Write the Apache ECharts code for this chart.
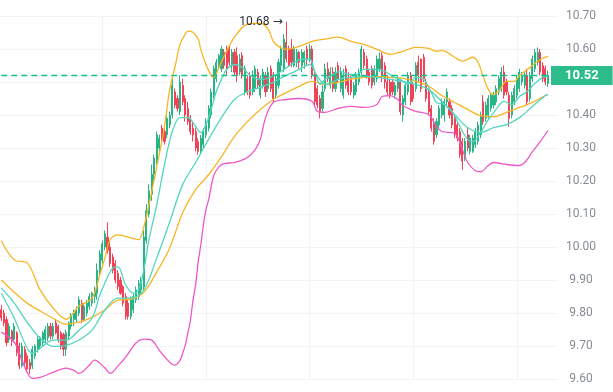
<!DOCTYPE html>
<html><head><meta charset="utf-8">
<script src="https://cdn.jsdelivr.net/npm/echarts@6/dist/echarts.min.js"></script>
<style>html,body{margin:0;padding:0;background:#fff}#c{width:613px;height:392px}</style>
</head><body><div id="c"></div>
<script>
const categories = Array.from({length: 215}, (_, i) => String(i + 1));
// [open, close, low, high]
const candles = [
[9.81,9.785,9.775,9.825],[9.80,9.77,9.76,9.81],[9.78,9.71,9.70,9.79],[9.72,9.76,9.71,9.77],[9.745,9.715,9.70,9.75],
[9.72,9.76,9.71,9.77],[9.74,9.68,9.67,9.745],[9.70,9.64,9.63,9.71],[9.64,9.70,9.635,9.71],[9.69,9.65,9.64,9.70],
[9.67,9.63,9.62,9.68],[9.65,9.63,9.615,9.66],[9.64,9.69,9.63,9.70],[9.67,9.70,9.66,9.705],[9.69,9.72,9.68,9.73],
[9.70,9.725,9.69,9.73],[9.71,9.74,9.70,9.745],[9.72,9.75,9.71,9.76],[9.725,9.76,9.715,9.77],[9.76,9.73,9.72,9.77],
[9.73,9.76,9.72,9.77],[9.77,9.74,9.735,9.78],[9.76,9.72,9.71,9.765],[9.74,9.70,9.69,9.745],[9.735,9.69,9.67,9.74],
[9.69,9.74,9.67,9.75],[9.73,9.77,9.72,9.775],[9.76,9.79,9.75,9.80],[9.78,9.80,9.76,9.81],[9.78,9.81,9.77,9.82],
[9.80,9.84,9.79,9.85],[9.83,9.78,9.77,9.84],[9.78,9.82,9.775,9.83],[9.80,9.83,9.79,9.84],[9.82,9.85,9.81,9.86],
[9.83,9.86,9.82,9.865],[9.85,9.87,9.83,9.88],[9.86,9.93,9.84,9.95],[9.92,9.98,9.91,9.99],[9.96,10.01,9.95,10.02],
[10.00,10.04,9.99,10.05],[10.03,9.99,9.98,10.075],[10.00,9.95,9.94,10.02],[9.97,9.93,9.92,9.98],[9.95,9.90,9.89,9.96],
[9.92,9.88,9.87,9.93],[9.90,9.86,9.855,9.91],[9.88,9.83,9.82,9.885],[9.85,9.79,9.78,9.86],[9.83,9.79,9.78,9.84],
[9.79,9.84,9.78,9.85],[9.81,9.85,9.80,9.86],[9.84,9.87,9.83,9.88],[9.85,9.89,9.84,9.90],[9.87,9.90,9.86,9.91],
[9.88,10.03,9.87,10.05],[10.02,10.11,10.01,10.13],[10.10,10.17,10.09,10.19],[10.16,10.22,10.14,10.25],[10.22,10.27,10.20,10.28],
[10.26,10.34,10.25,10.35],[10.30,10.33,10.29,10.34],[10.36,10.33,10.32,10.37],[10.35,10.32,10.31,10.36],[10.34,10.39,10.33,10.40],
[10.37,10.40,10.36,10.41],[10.40,10.49,10.39,10.52],[10.47,10.43,10.42,10.48],[10.45,10.42,10.41,10.46],[10.41,10.50,10.40,10.52],
[10.49,10.44,10.43,10.51],[10.45,10.40,10.38,10.46],[10.42,10.38,10.37,10.44],[10.39,10.35,10.34,10.40],[10.36,10.34,10.32,10.38],
[10.35,10.30,10.29,10.36],[10.32,10.29,10.28,10.33],[10.29,10.33,10.28,10.34],[10.31,10.35,10.30,10.36],[10.34,10.38,10.33,10.39],
[10.36,10.42,10.35,10.43],[10.40,10.47,10.39,10.48],[10.46,10.54,10.45,10.55],[10.51,10.56,10.50,10.57],[10.55,10.58,10.54,10.585],
[10.54,10.60,10.53,10.61],[10.59,10.55,10.54,10.60],[10.60,10.54,10.52,10.61],[10.60,10.56,10.55,10.61],[10.55,10.59,10.53,10.60],
[10.59,10.53,10.52,10.60],[10.58,10.52,10.50,10.605],[10.53,10.57,10.52,10.585],[10.58,10.52,10.51,10.59],[10.47,10.54,10.46,10.55],
[10.51,10.47,10.46,10.52],[10.52,10.46,10.45,10.53],[10.47,10.52,10.46,10.535],[10.48,10.54,10.47,10.55],[10.53,10.49,10.48,10.54],
[10.46,10.51,10.45,10.52],[10.49,10.53,10.48,10.54],[10.52,10.47,10.455,10.53],[10.48,10.53,10.47,10.545],[10.54,10.48,10.47,10.55],
[10.52,10.45,10.44,10.53],[10.46,10.51,10.45,10.52],[10.49,10.56,10.48,10.57],[10.55,10.60,10.53,10.61],[10.54,10.63,10.53,10.645],
[10.62,10.57,10.56,10.683],[10.60,10.55,10.545,10.61],[10.60,10.56,10.545,10.63],[10.55,10.60,10.545,10.61],[10.56,10.59,10.545,10.60],
[10.59,10.56,10.54,10.595],[10.55,10.59,10.53,10.60],[10.56,10.59,10.54,10.595],[10.60,10.57,10.55,10.61],[10.57,10.60,10.56,10.615],
[10.60,10.52,10.51,10.61],[10.52,10.44,10.43,10.53],[10.48,10.43,10.42,10.49],[10.45,10.41,10.39,10.46],[10.42,10.47,10.41,10.49],
[10.48,10.54,10.47,10.555],[10.54,10.51,10.50,10.56],[10.49,10.53,10.48,10.545],[10.53,10.48,10.47,10.545],[10.48,10.53,10.47,10.545],
[10.55,10.51,10.50,10.56],[10.48,10.53,10.47,10.545],[10.46,10.52,10.45,10.54],[10.54,10.49,10.48,10.55],[10.51,10.47,10.46,10.53],
[10.51,10.47,10.46,10.52],[10.46,10.49,10.45,10.50],[10.47,10.52,10.46,10.53],[10.50,10.53,10.49,10.54],[10.53,10.60,10.52,10.61],
[10.59,10.55,10.54,10.60],[10.57,10.52,10.51,10.58],[10.53,10.50,10.49,10.54],[10.54,10.49,10.48,10.55],[10.50,10.54,10.49,10.55],
[10.51,10.57,10.50,10.58],[10.54,10.57,10.53,10.59],[10.58,10.52,10.50,10.59],[10.55,10.50,10.48,10.56],[10.50,10.47,10.46,10.52],
[10.50,10.46,10.45,10.51],[10.50,10.47,10.46,10.51],[10.46,10.49,10.45,10.50],[10.48,10.51,10.47,10.52],[10.50,10.41,10.40,10.51],
[10.40,10.45,10.38,10.46],[10.44,10.49,10.43,10.50],[10.47,10.52,10.46,10.53],[10.52,10.44,10.43,10.53],[10.49,10.45,10.44,10.50],
[10.48,10.55,10.47,10.56],[10.56,10.52,10.50,10.58],[10.57,10.48,10.47,10.57],[10.575,10.51,10.50,10.585],[10.50,10.45,10.44,10.51],
[10.47,10.41,10.40,10.48],[10.42,10.36,10.35,10.43],[10.375,10.32,10.31,10.39],[10.34,10.38,10.33,10.39],[10.37,10.42,10.36,10.43],
[10.40,10.44,10.39,10.45],[10.40,10.44,10.38,10.45],[10.44,10.47,10.43,10.48],[10.44,10.40,10.39,10.45],[10.42,10.37,10.36,10.43],
[10.39,10.34,10.33,10.40],[10.37,10.33,10.32,10.38],[10.35,10.28,10.27,10.36],[10.32,10.26,10.234,10.33],[10.27,10.32,10.26,10.33],
[10.34,10.30,10.29,10.36],[10.29,10.33,10.28,10.34],[10.29,10.33,10.285,10.34],[10.31,10.35,10.30,10.36],[10.32,10.37,10.31,10.38],
[10.34,10.40,10.33,10.41],[10.44,10.38,10.37,10.46],[10.39,10.43,10.38,10.44],[10.40,10.45,10.39,10.46],[10.42,10.46,10.41,10.47],
[10.43,10.46,10.42,10.47],[10.44,10.48,10.43,10.49],[10.47,10.51,10.46,10.52],[10.48,10.53,10.47,10.545],[10.53,10.46,10.45,10.55],
[10.50,10.47,10.46,10.51],[10.46,10.39,10.365,10.47],[10.40,10.46,10.39,10.47],[10.44,10.48,10.43,10.49],[10.46,10.51,10.45,10.52],
[10.48,10.53,10.47,10.54],[10.50,10.52,10.49,10.53],[10.49,10.52,10.48,10.53],[10.52,10.44,10.43,10.54],[10.45,10.52,10.44,10.53],
[10.51,10.57,10.50,10.58],[10.54,10.59,10.53,10.60],[10.56,10.59,10.55,10.605],[10.59,10.53,10.52,10.60],[10.55,10.51,10.50,10.56],
[10.54,10.50,10.49,10.55],[10.495,10.52,10.485,10.535]
];
// [candle index, value]
const bbUpper = [[0,10.019],[5,9.961],[10,9.952],[15,9.870],[20,9.815],[25,9.781],[30,9.821],[35,9.845],[38,9.915],[40,9.967],[42,10.022],[45,10.037],[50,10.028],[53,10.022],[55,10.061],[57,10.128],[60,10.243],[63,10.365],[65,10.477],[67,10.544],[69,10.614],[71,10.645],[72,10.654],[74,10.651],[76,10.630],[77,10.599],[79,10.553],[81,10.520],[82,10.514],[84,10.544],[86,10.578],[90,10.636],[95,10.675],[100,10.678],[103,10.660],[105,10.623],[107,10.608],[110,10.599],[115,10.608],[120,10.623],[125,10.630],[130,10.636],[135,10.623],[140,10.614],[145,10.599],[150,10.584],[155,10.593],[160,10.605],[165,10.602],[168,10.593],[170,10.596],[175,10.575],[178,10.563],[182,10.575],[184,10.560],[186,10.517],[188,10.477],[190,10.462],[192,10.471],[195,10.502],[198,10.502],[200,10.520],[203,10.538],[205,10.550],[207,10.563],[209,10.572],[211,10.578]];
const bbMiddle = [[0,9.900],[5,9.863],[10,9.830],[15,9.806],[20,9.784],[25,9.766],[30,9.772],[35,9.787],[40,9.809],[45,9.839],[50,9.842],[55,9.863],[60,9.924],[65,9.997],[70,10.104],[75,10.174],[80,10.219],[85,10.274],[90,10.335],[95,10.380],[100,10.417],[105,10.447],[110,10.468],[115,10.487],[120,10.502],[125,10.493],[130,10.499],[135,10.508],[140,10.514],[145,10.517],[150,10.514],[155,10.511],[160,10.502],[165,10.487],[170,10.459],[175,10.438],[180,10.417],[185,10.398],[190,10.395],[195,10.408],[200,10.423],[205,10.438],[210,10.459],[211,10.462]];
const bbLower = [[0,9.742],[5,9.712],[8,9.657],[10,9.620],[12,9.602],[15,9.605],[20,9.620],[25,9.633],[28,9.626],[30,9.617],[34,9.642],[36,9.657],[40,9.633],[42,9.617],[45,9.639],[48,9.666],[52,9.709],[55,9.721],[58,9.718],[61,9.687],[65,9.651],[67,9.642],[69,9.657],[70,9.678],[71,9.702],[72,9.739],[73,9.778],[74,9.839],[75,9.885],[76,9.955],[77,10.006],[78,10.067],[79,10.113],[80,10.143],[82,10.216],[84,10.243],[86,10.253],[90,10.256],[95,10.271],[98,10.295],[100,10.326],[102,10.392],[105,10.438],[110,10.447],[115,10.450],[120,10.441],[122,10.411],[125,10.408],[130,10.420],[135,10.426],[140,10.423],[145,10.432],[147,10.456],[150,10.459],[153,10.447],[155,10.429],[160,10.411],[165,10.401],[168,10.365],[170,10.350],[175,10.344],[178,10.295],[180,10.256],[183,10.231],[185,10.228],[188,10.247],[190,10.256],[195,10.250],[200,10.247],[203,10.265],[205,10.289],[208,10.319],[211,10.353]];
const maFast = [[0,9.860],[5,9.784],[10,9.693],[12,9.678],[15,9.693],[20,9.718],[25,9.718],[30,9.748],[35,9.784],[38,9.854],[40,9.891],[43,9.936],[45,9.940],[48,9.885],[51,9.860],[53,9.870],[55,9.930],[57,10.022],[60,10.128],[63,10.250],[66,10.350],[69,10.392],[72,10.392],[75,10.365],[77,10.347],[79,10.371],[81,10.417],[83,10.471],[85,10.508],[87,10.538],[90,10.553],[93,10.544],[96,10.520],[100,10.508],[104,10.514],[108,10.532],[112,10.553],[116,10.569],[119,10.569],[121,10.532],[123,10.493],[125,10.508],[128,10.523],[131,10.532],[134,10.523],[137,10.523],[140,10.538],[144,10.538],[148,10.532],[151,10.517],[154,10.508],[157,10.493],[160,10.514],[163,10.508],[166,10.468],[168,10.438],[171,10.432],[174,10.411],[177,10.365],[180,10.326],[182,10.319],[185,10.347],[188,10.386],[191,10.417],[194,10.441],[197,10.432],[200,10.456],[203,10.471],[206,10.496],[209,10.514],[211,10.517]];
const maSlow = [[0,9.876],[5,9.830],[10,9.772],[15,9.724],[20,9.699],[25,9.702],[30,9.718],[35,9.748],[40,9.809],[45,9.845],[50,9.845],[55,9.870],[60,9.967],[65,10.076],[70,10.189],[75,10.256],[80,10.326],[85,10.392],[90,10.447],[95,10.471],[100,10.484],[105,10.499],[110,10.520],[115,10.538],[119,10.553],[122,10.517],[125,10.493],[130,10.508],[135,10.514],[140,10.517],[145,10.514],[150,10.508],[155,10.502],[160,10.493],[165,10.477],[170,10.441],[175,10.401],[180,10.362],[185,10.347],[190,10.362],[195,10.371],[200,10.392],[205,10.426],[210,10.459],[211,10.462]];
const lastPrice = 10.52;
const verticalGridAt = [39, 79, 119, 159, 199];

const UP = '#26b583', DOWN = '#ef4458', ORANGE = '#f9b524', MAGENTA = '#ee58c6', TEAL = '#52d6bf', LAST = '#14c08a';
const chart = echarts.init(document.getElementById('c'), null, {renderer: 'canvas'});
const lineS = (name, data, color) => ({
  name, type: 'line', data, smooth: 0.35, symbol: 'none', silent: true, z: 3,
  lineStyle: {color, width: 1.3}
});
chart.setOption({
  animation: false,
  backgroundColor: '#ffffff',
  grid: {left: 0, right: 56, top: 16, bottom: 13, containLabel: false},
  xAxis: {
    type: 'category', data: categories, boundaryGap: true,
    axisLine: {show: false}, axisTick: {show: false}, axisLabel: {show: false}, splitLine: {show: false}
  },
  yAxis: {
    type: 'value', position: 'right', min: 9.6, max: 10.7, interval: 0.1, scale: true,
    axisLine: {show: false}, axisTick: {show: false},
    axisLabel: {align: 'center', margin: 24, color: '#868b95', fontSize: 12, fontFamily: 'Roboto',
      formatter: v => v.toFixed(2)},
    splitLine: {lineStyle: {color: '#f2f3f5', width: 1}}
  },
  series: [
    {
      name: 'grid', type: 'line', data: [], z: 0, silent: true,
      markLine: {
        z: 0, silent: true, symbol: 'none', label: {show: false}, animation: false,
        lineStyle: {color: '#f2f3f5', width: 1, type: 'solid'},
        data: verticalGridAt.map(i => ({xAxis: categories[i]}))
      }
    },
    {
      name: 'price', type: 'candlestick', data: candles, barWidth: 1.6, z: 2,
      itemStyle: {color: UP, color0: DOWN, borderColor: UP, borderColor0: DOWN, borderWidth: 1},
      markPoint: {
        symbol: 'rect', symbolSize: 1, itemStyle: {color: 'rgba(0,0,0,0)'},
        label: {show: true, position: 'left', distance: 3,
          formatter: p => '{n|' + p.value.toFixed(2) + '} {a|\u2192}',
          rich: {
            n: {color: '#2a2e39', fontSize: 12, fontFamily: 'Roboto'},
            a: {color: '#2a2e39', fontSize: 12, fontFamily: 'DejaVu Sans'}
          }},
        data: [{type: 'max', valueDim: 'highest'}]
      }
    },
    {
      name: 'lastLine', type: 'line', silent: true, symbol: 'none', z: 4,
      data: [[0, lastPrice], [categories.length - 1, lastPrice]],
      lineStyle: {color: LAST, width: 1.5, type: [6, 4], opacity: 1}
    },
    {
      name: 'lastLabel', type: 'line', data: [], silent: true,
      markLine: {
        z: 6, silent: true, symbol: 'none', animation: false,
        lineStyle: {color: 'rgba(0,0,0,0)', width: 1},
        label: {show: true, position: 'end', distance: -6, formatter: p => p.value.toFixed(2),
          backgroundColor: '#2dbd8b', color: '#ffffff', fontWeight: 'bold', fontSize: 13, fontFamily: 'Roboto',
          padding: [3, 14, 3, 14]},
        data: [{yAxis: lastPrice}]
      }
    },
    lineS('BOLL UP', bbUpper, ORANGE),
    lineS('BOLL MID', bbMiddle, ORANGE),
    lineS('BOLL LOW', bbLower, MAGENTA),
    lineS('MA fast', maFast, TEAL),
    lineS('MA slow', maSlow, TEAL)
  ]
});
</script></body></html>
